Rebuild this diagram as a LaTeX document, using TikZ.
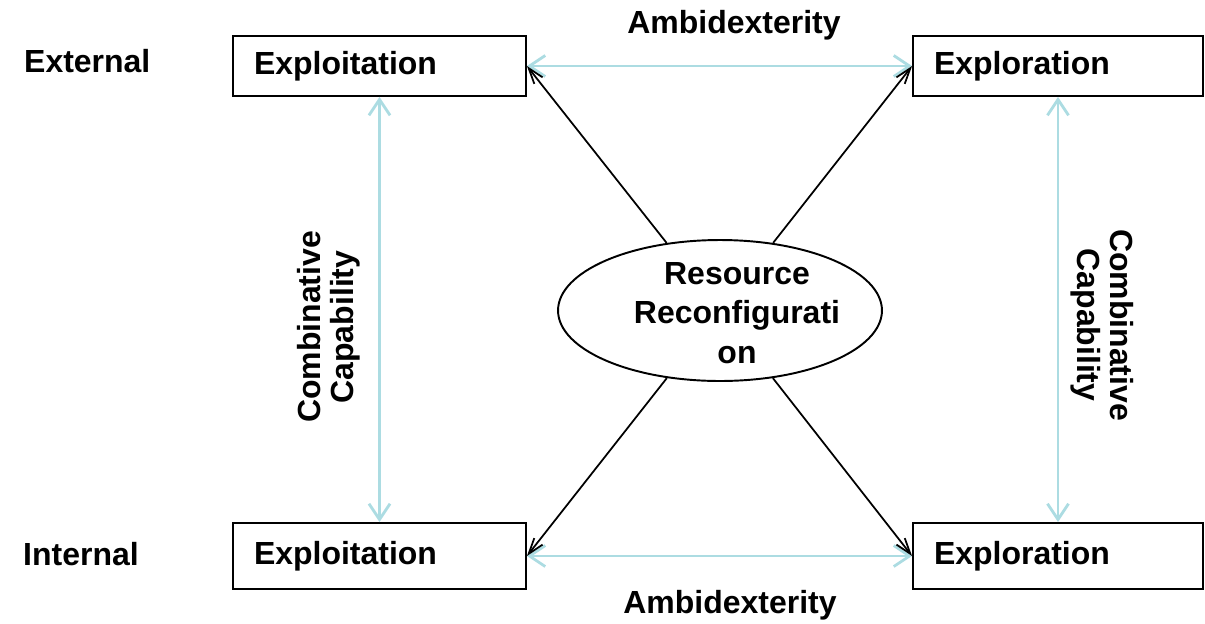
\documentclass[tikz,border=0pt]{standalone}
\usepackage{fontspec}
\setmainfont{Liberation Sans}
\usetikzlibrary{arrows.meta,shapes.geometric}
\definecolor{ambiblue}{RGB}{172,220,226}

\begin{document}
\begin{tikzpicture}[x=0.02cm, y=-0.02cm,
    font=\bfseries\fontsize{18.2}{22}\selectfont,
    box/.style={draw, line width=1.1pt, minimum width=5.86cm, text width=5.02cm,
        inner xsep=0.42cm, align=left},
    link/.style={draw=ambiblue, line width=1.6pt, {Straight Barb[length=9pt,width=12pt]}-{Straight Barb[length=9pt,width=12pt]}},
    drive/.style={draw, line width=1pt, -{Straight Barb[length=9pt,width=6pt]}}]
    \useasboundingbox (0,0) rectangle (1205,623);
    % boxes
    \node[box, minimum height=1.2cm] (xploit-ext) at (379.5,66) {Exploitation};
    \node[box, minimum height=1.2cm, minimum width=5.8cm, text width=4.96cm] (xplore-ext) at (1058,66) {Exploration};
    \node[box, minimum height=1.32cm] (xploit-int) at (379.5,556) {Exploitation};
    \node[box, minimum height=1.32cm, minimum width=5.8cm, text width=4.96cm] (xplore-int) at (1058,556) {Exploration};
    % centre
    \node[ellipse, draw, line width=1.1pt, minimum width=6.48cm, minimum height=2.82cm, inner sep=0pt] (reconf) at (720,310.5) {};
    \node[align=center, font=\bfseries\fontsize{18.2}{22.5}\selectfont] (reconf-txt) at (737,313) {Resource\\Reconfigurati\\on};
    % labels
    \node[anchor=base west] (ext) at (18,72) {External};
    \node[anchor=base west] (int) at (17,565) {Internal};
    \node[anchor=base] (ambi-top) at (734,33) {Ambidexterity};
    \node[anchor=base] (ambi-bot) at (730,613) {Ambidexterity};
    \node[rotate=90, align=center, font=\bfseries\fontsize{18.2}{18.8}\selectfont] (comb-l) at (328.5,327) {Combinative\\Capability};
    \node[rotate=-90, align=center, font=\bfseries\fontsize{18.2}{18.8}\selectfont] (comb-r) at (1102.5,325) {Combinative\\Capability};
    % connectors
    \draw[link] (xploit-ext.east) -- (xplore-ext.west);
    \draw[link] (xploit-int.east) -- (xplore-int.west);
    \draw[link] (xploit-ext.south) -- (xploit-int.north);
    \draw[link] (xplore-ext.south) -- (xplore-int.north);
    \draw[drive] (reconf) -- (xploit-ext.east);
    \draw[drive] (reconf) -- (xplore-ext.west);
    \draw[drive] (reconf) -- (xploit-int.east);
    \draw[drive] (reconf) -- (xplore-int.west);
\end{tikzpicture}
\end{document}
